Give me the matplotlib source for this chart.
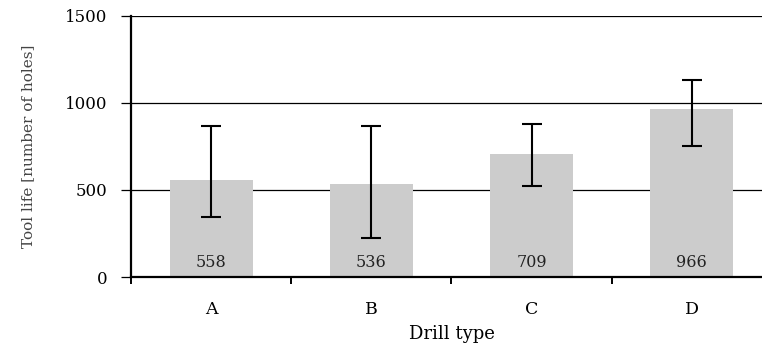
import matplotlib.pyplot as plt
import numpy as np

# drill test results: mean tool life and spread (min / max) per drill type
drill_types = ["A", "B", "C", "D"]
tool_life = [558, 536, 709, 966]
life_low = [346, 226, 523, 753]
life_high = [868, 868, 877, 1132]

plt.rcParams["font.family"] = ["DejaVu Serif"]

fig = plt.figure(figsize=(7.62, 3.45), dpi=100)
ax = fig.add_axes([0.172, 0.197, 0.841, 0.757])

x = np.arange(len(drill_types))
yerr = [np.array(tool_life) - np.array(life_low), np.array(life_high) - np.array(tool_life)]

ax.set_axisbelow(True)
ax.yaxis.grid(True, color="black", linewidth=0.9)
ax.bar(x, tool_life, width=0.52, color="#cccccc", zorder=2)
ax.errorbar(x, tool_life, yerr=yerr, fmt="none", ecolor="black",
            elinewidth=1.5, capsize=7.5, capthick=1.5, zorder=3)

for xi, v in zip(x, tool_life):
    ax.text(xi, 86, str(v), ha="center", va="center", fontsize=11.5, color="#222222", zorder=4)

ax.set_xlim(-0.5, 3.5)
ax.set_ylim(0, 1500)
ax.set_yticks([0, 500, 1000, 1500])
ax.set_xticks(x)
ax.set_xticklabels(drill_types)
ax.set_xticks([-0.5, 0.5, 1.5, 2.5], minor=True)
ax.tick_params(axis="x", which="major", length=0, pad=17, labelsize=12.5)
ax.tick_params(axis="x", which="minor", length=5, width=1.4, color="black")
ax.tick_params(axis="y", length=7, width=0.9, pad=10, labelsize=12)

for side in ["top", "right"]:
    ax.spines[side].set_visible(False)
ax.spines["left"].set_linewidth(1.6)
ax.spines["bottom"].set_linewidth(1.6)

ax.set_xlabel("Drill type", fontsize=13, labelpad=5)
ax.set_ylabel("Tool life [number of holes]", fontsize=11, color="#444444")
ax.yaxis.set_label_coords(-0.15, 0.5)

fig.savefig("out.png", dpi=100)
